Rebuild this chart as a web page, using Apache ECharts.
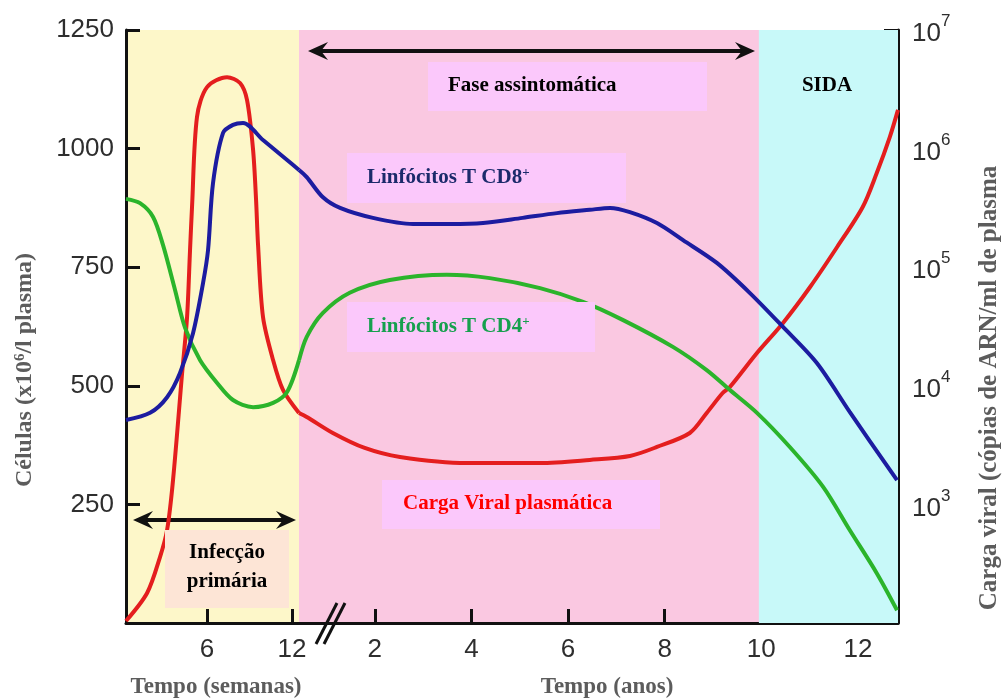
<!DOCTYPE html>
<html><head><meta charset="utf-8">
<script src="https://cdn.jsdelivr.net/npm/echarts@6/dist/echarts.min.js"></script>
<style>html,body{margin:0;padding:0;background:#fff}#c{width:1003px;height:699px}</style>
</head><body><div id="c"></div>
<script>
// ---- tick labels ----
const weekTicks = [6, 12];
const yearTicks = [2, 4, 6, 8, 10, 12];
const cellTickStep = 250;
const viralDecadeLabels = [3, 4, 5, 6, 7];
const sidaStartYear = 9.95;

// ---- series: [time, value] ----
// CD4 (cells x10^6/l), weeks section
const cd4Weeks = [[0.28,894],[1.27,885],[2.19,856],[2.89,797],[3.74,702],[4.45,622],[5.51,554],[6.71,506],[7.83,470],[9.25,455],[10.66,464],[11.65,487],[12.49,554]];
// CD4, years section
const cd4Years = [[0.43,554],[0.59,603],[0.92,653],[1.48,696],[2.31,723],[3.49,734],[4.38,727],[5.42,706],[6.31,677],[7.13,639],[8.17,582],[8.87,533],[9.35,491],[9.91,443],[10.59,371],[11.28,287],[11.83,196],[12.39,105],[12.81,27]];
// CD8, weeks
const cd8Weeks = [[0.28,428],[1.98,443],[3.18,476],[4.09,527],[5.01,611],[5.72,717],[6.07,786],[6.42,927],[7.13,1033],[7.83,1050],[8.54,1054],[9.95,1018],[11.65,976],[12.49,955]];
// CD8, years
const cd8Years = [[0.43,955],[0.59,940],[0.92,898],[1.28,875],[1.96,854],[2.79,841],[3.55,841],[4.24,843],[5.06,854],[5.77,864],[6.45,871],[6.87,875],[7.28,866],[7.84,843],[8.38,807],[9.08,759],[9.76,696],[10.45,624],[11.15,548],[11.83,445],[12.81,301]];
// Viral load (copies ARN/ml), weeks
const viralWeeks = [[0.28,104],[1.77,179],[2.68,360],[3.18,608],[3.60,1607],[4.24,12800],[4.59,38000],[4.80,140000],[4.94,322000],[5.29,1850000],[6.00,3300000],[7.41,4000000],[8.33,3570000],[8.82,2570000],[9.25,973000],[9.46,369000],[9.60,154000],[9.95,38000],[10.66,16500],[11.36,9230],[12.49,5900]];
// Viral load, years
const viralYears = [[0.43,5900],[0.59,5460],[1.13,4000],[1.79,2990],[2.52,2510],[3.90,2230],[5.42,2230],[6.45,2370],[7.28,2560],[7.84,3050],[8.52,4000],[8.87,5900],[9.20,8690],[9.35,9770],[9.91,18900],[10.45,33900],[11.01,68100],[11.57,148000],[12.10,322000],[12.39,622000],[12.66,1250000],[12.83,2120000]];

const SANS = 'Liberation Sans, Arial, sans-serif';
const SERIF = 'Liberation Serif, Times New Roman, serif';
const RED = '#e41e1e', BLUE = '#1c1ca0', GREEN = '#2bb42b';

const chart = echarts.init(document.getElementById('c'), null, {renderer: 'canvas'});

const axLine = {show: true, onZero: false, lineStyle: {color: '#111', width: 3}};
const axTick = (vals) => ({show: true, inside: true, length: 14, lineStyle: {color: '#111', width: 3}, customValues: vals});
const tickLabel = {fontSize: 26, color: '#2e2e2e', fontFamily: SANS};

function lineSeries(name, data, xi, yi, color) {
  return {
    name, type: 'line', data, xAxisIndex: xi, yAxisIndex: yi,
    smooth: 0.3, showSymbol: false, symbol: 'none',
    lineStyle: {color, width: 4}, z: 3, silent: true
  };
}

function arrow(x1, x2, y) {
  const h = 9, L = 20, n = 13;
  return {
    type: 'group', z: 50, children: [
      {type: 'line', shape: {x1: x1 + n, y1: y, x2: x2 - n, y2: y}, style: {stroke: '#111', lineWidth: 4}},
      {type: 'polygon', shape: {points: [[x1, y], [x1 + L, y - h], [x1 + n, y], [x1 + L, y + h]]}, style: {fill: '#111'}},
      {type: 'polygon', shape: {points: [[x2, y], [x2 - L, y - h], [x2 - n, y], [x2 - L, y + h]]}, style: {fill: '#111'}}
    ]
  };
}
function box(x, y, w, h, fill) {
  return {type: 'rect', z: 40, shape: {x, y, width: w, height: h}, style: {fill}};
}
function label(x, y, text, color, align) {
  return {type: 'text', z: 45, x, y, style: {
    text, fill: color, font: 'bold 21px ' + SERIF, align: align || 'left', verticalAlign: 'middle',
    rich: {
      a: {fontSize: 21, fontWeight: 'bold', fontFamily: SERIF, fill: color, color},
      s: {fontSize: 13, fontWeight: 'bold', fontFamily: SERIF, fill: color, color, verticalAlign: 'top', padding: [0, 0, 10, 0]}
    }
  }};
}

const option = {
  animation: false,
  backgroundColor: '#ffffff',
  grid: [
    {left: 126, top: 30, width: 173, height: 593, show: true, backgroundColor: '#fdf7c9', borderWidth: 0},
    {left: 299, top: 30, width: 599, height: 593, show: true, backgroundColor: '#fac8e1', borderWidth: 0}
  ],
  xAxis: [
    {gridIndex: 0, type: 'value', min: 0.28, max: 12.49, axisLine: axLine, axisTick: axTick(weekTicks),
     axisLabel: Object.assign({customValues: weekTicks, margin: 14}, tickLabel), splitLine: {show: false}},
    {gridIndex: 1, type: 'value', min: 0.43, max: 12.83, axisLine: axLine, axisTick: axTick(yearTicks),
     axisLabel: Object.assign({customValues: yearTicks, margin: 14}, tickLabel), splitLine: {show: false}}
  ],
  yAxis: [
    {gridIndex: 0, type: 'value', min: 0, max: 1250, interval: cellTickStep, position: 'left',
     axisLine: axLine, axisTick: {show: true, inside: true, length: 14, lineStyle: {color: '#111', width: 3}},
     axisLabel: Object.assign({margin: 12, formatter: v => v === 0 ? '' : String(v)}, tickLabel), splitLine: {show: false}},
    {gridIndex: 0, type: 'log', logBase: 10, min: 100, max: 1e7, show: false},
    {gridIndex: 1, type: 'value', min: 0, max: 1250, show: false},
    {gridIndex: 1, type: 'log', logBase: 10, min: 100, max: 1e7, position: 'right',
     axisLine: axLine, axisTick: {show: true, inside: true, length: 14, lineStyle: {color: '#111', width: 3}},
     axisLabel: {margin: 14, formatter: v => {
        const e = Math.round(Math.log10(v));
        return viralDecadeLabels.includes(e) ? '{b|10}{s|' + e + '}' : '';
      },
      rich: {
        b: {fontSize: 26, color: '#2e2e2e', fontFamily: SANS, verticalAlign: 'bottom', lineHeight: 34},
        s: {fontSize: 17, color: '#2e2e2e', fontFamily: SANS, verticalAlign: 'top', lineHeight: 34}
      }},
     splitLine: {show: false}}
  ],
  series: [
    {type: 'line', data: [], xAxisIndex: 1, yAxisIndex: 2, z: 1, silent: true,
     markArea: {silent: true, itemStyle: {color: '#c8f9f9', opacity: 1},
       data: [[{xAxis: sidaStartYear}, {xAxis: 12.83}]]}},
    lineSeries('Carga viral (semanas)', viralWeeks, 0, 1, RED),
    lineSeries('Carga viral (anos)', viralYears, 1, 3, RED),
    lineSeries('CD4 (semanas)', cd4Weeks, 0, 0, GREEN),
    lineSeries('CD4 (anos)', cd4Years, 1, 2, GREEN),
    lineSeries('CD8 (semanas)', cd8Weeks, 0, 0, BLUE),
    lineSeries('CD8 (anos)', cd8Years, 1, 2, BLUE)
  ],
  graphic: [
    {type: 'line', z: 60, shape: {x1: 316, y1: 644, x2: 337, y2: 603}, style: {stroke: '#111', lineWidth: 3}},
    {type: 'line', z: 60, shape: {x1: 324, y1: 644, x2: 345, y2: 603}, style: {stroke: '#111', lineWidth: 3}},
    arrow(308, 755, 51),
    arrow(768, 893, 51),
    arrow(133, 296, 520),
    box(428, 62, 279, 49, '#fbc8fb'),
    label(448, 86, 'Fase assintomática', '#000'),
    label(827, 86, 'SIDA', '#000', 'center'),
    box(347, 153, 279, 50, '#fbc8fb'),
    label(367, 178, '{a|Linfócitos T CD8}{s|+}', '#1b2a6b'),
    box(347, 302, 248, 50, '#fbc8fb'),
    label(367, 327, '{a|Linfócitos T CD4}{s|+}', '#16a04e'),
    box(382, 480, 278, 49, '#fbc8fb'),
    label(403, 504, 'Carga Viral plasmática', '#ff0000'),
    box(165, 530, 124, 78, '#fde5d6'),
    label(227, 553, 'Infecção', '#000', 'center'),
    label(227, 582, 'primária', '#000', 'center'),
    {type: 'text', z: 45, x: 25, y: 370, rotation: Math.PI / 2, style: {
      text: '{a|Células (x10}{s|6}{a|/l plasma)}', align: 'center', verticalAlign: 'middle',
      rich: {a: {fontSize: 24, fontWeight: 'bold', fontFamily: SERIF, fill: '#5c5c5c'},
             s: {fontSize: 15, fontWeight: 'bold', fontFamily: SERIF, fill: '#5c5c5c', verticalAlign: 'top', padding: [0, 0, 10, 0]}}}},
    {type: 'text', z: 45, x: 990, y: 388, rotation: Math.PI / 2, style: {
      text: 'Carga viral (cópias de ARN/ml de plasma', align: 'center', verticalAlign: 'middle',
      font: 'bold 25px ' + SERIF, fill: '#5c5c5c'}},
    {type: 'text', z: 45, x: 216, y: 687, style: {
      text: 'Tempo (semanas)', align: 'center', verticalAlign: 'middle', font: 'bold 23px ' + SERIF, fill: '#5c5c5c'}},
    {type: 'text', z: 45, x: 607, y: 687, style: {
      text: 'Tempo (anos)', align: 'center', verticalAlign: 'middle', font: 'bold 23px ' + SERIF, fill: '#5c5c5c'}}
  ]
};
chart.setOption(option);
</script>
</body></html>
